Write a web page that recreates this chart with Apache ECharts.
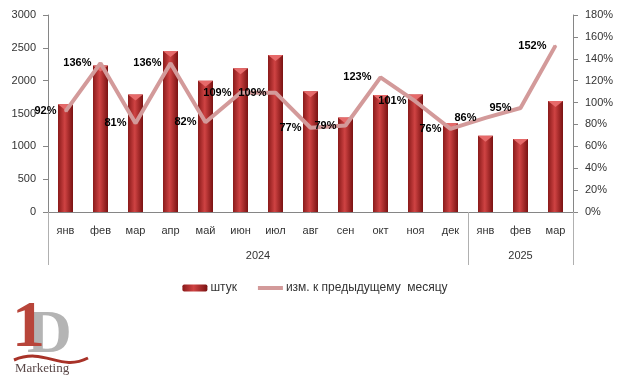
<!DOCTYPE html>
<html>
<head>
<meta charset="utf-8">
<script src="https://cdn.jsdelivr.net/npm/echarts@6/dist/echarts.min.js"></script>
<style>
html,body{margin:0;padding:0;background:#fff;}
#c{width:630px;height:379px;}
</style>
</head>
<body>
<div id="c"></div>
<script>
// ---- data ----
const months = ['янв','фев','мар','апр','май','июн','июл','авг','сен','окт','ноя','дек','янв','фев','мар'];
const years = ['2024','2025'];
const yearMonthCounts = [12, 3];
const units = [1640, 2230, 1790, 2450, 2000, 2190, 2390, 1840, 1440, 1780, 1790, 1350, 1160, 1110, 1690];
const changePct = [92, 136, 81, 136, 82, 109, 109, 77, 79, 123, 101, 76, 86, 95, 152];
const seriesNames = ['штук', 'изм. к предыдущему  месяцу'];

// year boundaries / centres derived from month counts
const yearBounds = [0];
yearMonthCounts.forEach(n => yearBounds.push(yearBounds[yearBounds.length - 1] + n));
const yearCenters = yearMonthCounts.map((n, i) => yearBounds[i] + n / 2);

const chart = echarts.init(document.getElementById('c'), null, {renderer: 'canvas'});
const axisColor = '#868686';
const txt = '#333';
const font = 'Liberation Sans';
const lineColor = '#d39a9a';

const barGrad = new echarts.graphic.LinearGradient(0, 0, 1, 0, [
  {offset: 0, color: '#8a1a1a'},
  {offset: 0.45, color: '#cf4343'},
  {offset: 1, color: '#7a1212'}
]);

chart.setOption({
  backgroundColor: '#fff',
  animation: false,
  textStyle: {fontFamily: font},
  grid: {left: 48, right: 57, top: 15, bottom: 167, containLabel: false},
  legend: {
    top: 277,
    left: 'center',
    itemWidth: 25,
    itemHeight: 7,
    itemGap: 19,
    textStyle: {fontSize: 12, color: txt, fontFamily: font, padding: [0, 0, 0, -2]},
    data: [
      {name: seriesNames[0], itemStyle: {color: barGrad}},
      {name: seriesNames[1], itemStyle: {opacity: 0}, lineStyle: {color: lineColor, width: 4}}
    ]
  },
  xAxis: [
    {
      type: 'category',
      data: months,
      boundaryGap: true,
      axisLine: {lineStyle: {color: axisColor}},
      axisTick: {interval: 0, length: 28, lineStyle: {color: '#b0b0b0'}},
      axisLabel: {interval: 0, margin: 13, fontSize: 11, color: txt}
    },
    {
      type: 'value',
      min: 0,
      max: yearBounds[yearBounds.length - 1],
      position: 'bottom',
      axisLine: {show: false},
      splitLine: {show: false},
      axisTick: {show: true, customValues: yearBounds, length: 53, lineStyle: {color: '#b0b0b0'}},
      axisLabel: {
        customValues: yearCenters,
        margin: 38,
        fontSize: 11,
        color: txt,
        formatter: v => years[yearCenters.indexOf(v)] || ''
      }
    }
  ],
  yAxis: [
    {
      type: 'value',
      min: 0, max: 3000, interval: 500,
      axisLine: {show: true, lineStyle: {color: axisColor}},
      axisTick: {show: true, length: 5, lineStyle: {color: axisColor}},
      splitLine: {show: false},
      axisLabel: {margin: 12, fontSize: 11, color: txt, formatter: v => String(v)}
    },
    {
      type: 'value',
      min: 0, max: 180, interval: 20,
      position: 'right',
      axisLine: {show: true, lineStyle: {color: axisColor}},
      axisTick: {show: true, length: 5, lineStyle: {color: axisColor}},
      splitLine: {show: false},
      axisLabel: {margin: 12, fontSize: 11, color: txt, formatter: v => v + '%'}
    }
  ],
  series: [
    {
      name: seriesNames[0],
      type: 'bar',
      xAxisIndex: 0,
      yAxisIndex: 0,
      barWidth: 15,
      data: units,
      itemStyle: {color: barGrad},
      z: 2
    },
    {
      name: seriesNames[0],
      type: 'pictorialBar',
      xAxisIndex: 0,
      yAxisIndex: 0,
      symbol: 'path://M0,0 L10,0 L5,4 Z',
      symbolSize: [15, 6],
      symbolPosition: 'end',
      symbolOffset: [0, 0],
      data: units,
      itemStyle: {color: '#e66a6a'},
      legendHoverLink: false,
      silent: true,
      z: 3
    },
    {
      name: seriesNames[1],
      type: 'line',
      xAxisIndex: 0,
      yAxisIndex: 1,
      data: changePct,
      symbol: 'circle',
      showSymbol: true,
      symbolSize: 2,
      lineStyle: {color: lineColor, width: 4},
      itemStyle: {color: lineColor},
      label: {
        show: true,
        position: 'left',
        distance: 8,
        formatter: '{c}%',
        fontSize: 11,
        fontWeight: 'bold',
        color: '#000',
        fontFamily: font
      },
      labelLayout: {hideOverlap: false},
      z: 5
    }
  ],
  graphic: [
    {
      type: 'text', left: 12, top: 296, z: 10,
      style: {text: '1', font: 'bold 66px "Liberation Serif"', fill: '#b8453a'}
    },
    {
      type: 'text', left: 27, top: 305, z: 9,
      style: {text: 'D', font: 'bold 62px "Liberation Serif"', fill: '#b4b4b4'}
    },
    {
      type: 'bezierCurve', z: 11,
      shape: {x1: 14, y1: 360, cpx1: 45, cpy1: 347, cpx2: 60, cpy2: 372, x2: 88, y2: 358},
      style: {stroke: '#a83228', lineWidth: 3, fill: null}
    },
    {
      type: 'text', left: 15, top: 362, z: 12,
      style: {text: 'Marketing', font: '13px "Liberation Serif"', fill: '#5a4848'}
    }
  ]
});
</script>
</body>
</html>
